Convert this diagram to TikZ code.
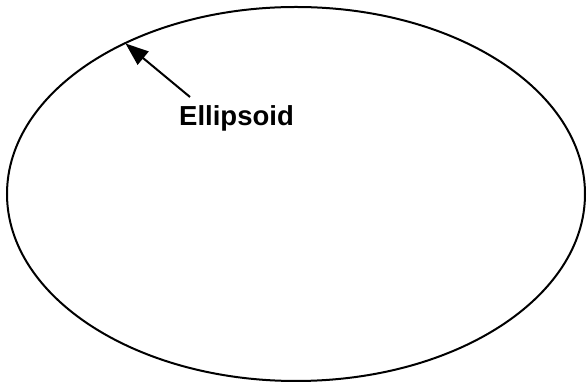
\documentclass[tikz,border=0pt]{standalone}
\usepackage{fontspec}
\setmainfont{Liberation Sans}
\usepackage{tikz}
\usetikzlibrary{arrows.meta, positioning, shapes.geometric}

\begin{document}
\begin{tikzpicture}[x=1pt, y=1pt, line width=2pt]
  \useasboundingbox (0,0) rectangle (587,385);
  % outline
  \draw (296,191) ellipse [x radius=289, y radius=187];
  % label and pointer
  \node[font=\fontsize{27.5}{32}\selectfont\bfseries] (lbl) at (236.5,267) {Ellipsoid};
  \coordinate (tip) at (125.5,341.5);
  \coordinate (tail) at (190,288);
  \draw[-{Triangle[length=23pt, width=17pt]}] (tail) -- (tip);
\end{tikzpicture}
\end{document}
